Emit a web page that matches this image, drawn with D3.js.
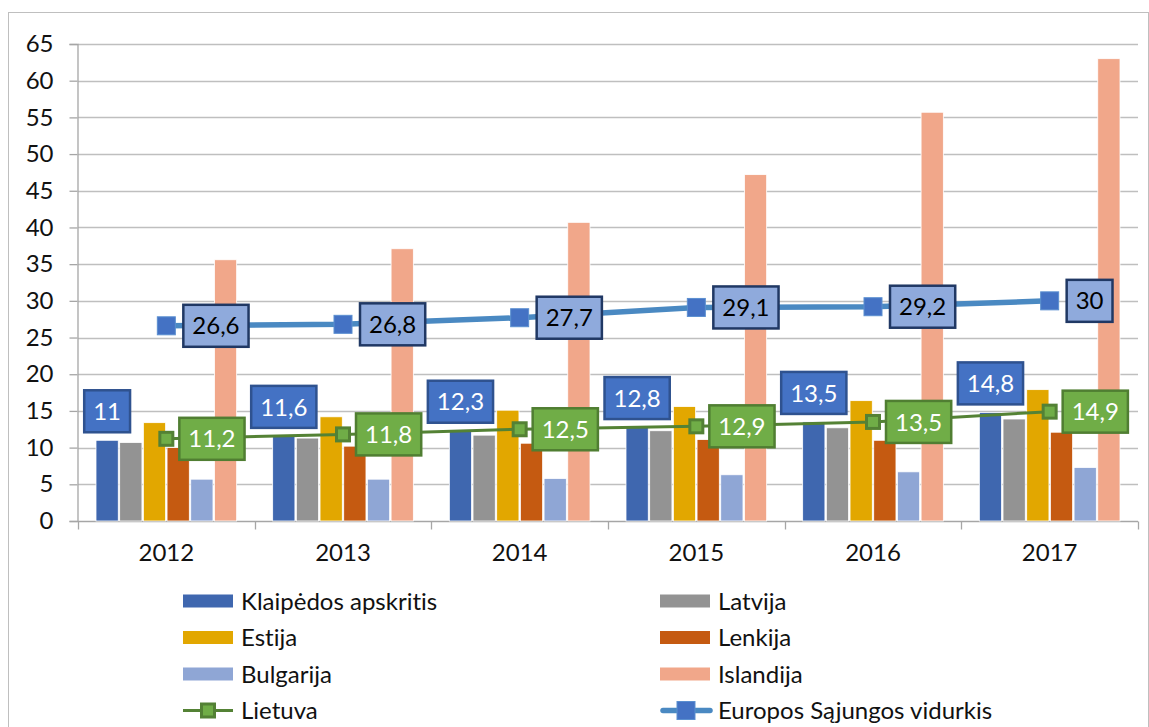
<!DOCTYPE html>
<html>
<head>
<meta charset="utf-8">
<script src="https://cdn.jsdelivr.net/npm/d3@7"></script>
<style>
	body { margin: 0; background: white; }
	svg text { font-family: Lato, "Open Sans", sans-serif; font-variant-ligatures: none; }
</style>
</head>
<body>
<svg id="chart" width="1149" height="727"></svg>
<script>
var YEARS = ["2012", "2013", "2014", "2015", "2016", "2017"];

var BAR_SERIES = ["Klaipėdos apskritis", "Latvija", "Estija", "Lenkija", "Bulgarija", "Islandija"];
var KLAIPEDA = [11, 11.6, 12.3, 12.8, 13.5, 14.8];
var LATVIJA = [10.7, 11.3, 11.7, 12.3, 12.7, 13.9];
var ESTIJA = [13.4, 14.2, 15.1, 15.6, 16.4, 17.9];
var LENKIJA = [10.0, 10.2, 10.6, 11.1, 11.0, 12.1];
var BULGARIJA = [5.7, 5.7, 5.8, 6.3, 6.7, 7.3];
var ISLANDIJA = [35.6, 37.1, 40.7, 47.2, 55.7, 63.0];

var LIETUVA = [11.2, 11.8, 12.5, 12.9, 13.5, 14.9];
var ES_VIDURKIS = [26.6, 26.8, 27.7, 29.1, 29.2, 30];

var Y_TICKS = [0, 5, 10, 15, 20, 25, 30, 35, 40, 45, 50, 55, 60, 65];

var barValues = [KLAIPEDA, LATVIJA, ESTIJA, LENKIJA, BULGARIJA, ISLANDIJA];
var barColors = ["#3F67AF", "#939393", "#E2A700", "#C55A11", "#8FA6D5", "#F1A78A"];

function fmt(v) {
	return String(v).replace(".", ",");
}

var svg = d3.select("#chart");
var FONT = 24;

// frame
svg.append("rect")
	.attr("x", 8.5)
	.attr("y", 12.5)
	.attr("width", 1140)
	.attr("height", 720)
	.attr("fill", "white")
	.attr("stroke", "#BFBFBF")
	.attr("stroke-width", 1);

var x0 = d3.scaleBand().domain(YEARS).range([78, 1138]);
var x1 = d3.scaleBand().domain(BAR_SERIES)
	.range([18, x0.bandwidth() - 18])
	.paddingInner(0.06);
var y = d3.scaleLinear().domain([0, 65]).range([521, 44]);

// gridlines
svg.append("g").selectAll("line")
	.data(Y_TICKS.filter(function(t) { return t > 0; }))
	.join("line")
	.attr("x1", 78)
	.attr("x2", 1138)
	.attr("y1", function(d) { return Math.round(y(d)) + 0.5; })
	.attr("y2", function(d) { return Math.round(y(d)) + 0.5; })
	.attr("stroke", "#BFBFBF")
	.attr("stroke-width", 1.3);

// y axis
var yAxis = svg.append("g")
	.attr("transform", "translate(77.5,0)")
	.call(d3.axisLeft(y).tickValues(Y_TICKS).tickSize(8).tickPadding(16).tickFormat(d3.format("d")));
yAxis.select(".domain").attr("stroke", "#A6A6A6").attr("stroke-width", 1.3);
yAxis.selectAll(".tick line").attr("stroke", "#A6A6A6").attr("stroke-width", 1.3);
yAxis.selectAll("text")
	.attr("font-size", FONT)
	.attr("font-family", "Lato, sans-serif")
	.attr("fill", "#111");

// x axis
var xAxis = svg.append("g")
	.attr("transform", "translate(0,521.5)")
	.call(d3.axisBottom(x0).tickSize(0).tickPadding(22));
xAxis.select(".domain").attr("d", "M78,0H1138").attr("stroke", "#A6A6A6").attr("stroke-width", 1.3);
xAxis.selectAll("text")
	.attr("font-size", FONT)
	.attr("font-family", "Lato, sans-serif")
	.attr("fill", "#111");
var bounds = YEARS.map(function(d) { return x0(d); }).concat([x0.range()[1]]);
xAxis.selectAll(".bound")
	.data(bounds)
	.join("line")
	.attr("class", "bound")
	.attr("x1", function(d) { return Math.round(d) + 0.5; })
	.attr("x2", function(d) { return Math.round(d) + 0.5; })
	.attr("y1", 0)
	.attr("y2", 8)
	.attr("stroke", "#A6A6A6")
	.attr("stroke-width", 1.3);

// bars
var groups = svg.append("g").selectAll("g")
	.data(YEARS)
	.join("g")
	.attr("transform", function(d) { return "translate(" + x0(d) + ",0)"; });

groups.selectAll("rect")
	.data(function(d, i) {
		return BAR_SERIES.map(function(s, k) { return {series: s, value: barValues[k][i], color: barColors[k]}; });
	})
	.join("rect")
	.attr("x", function(d) { return x1(d.series); })
	.attr("y", function(d) { return y(d.value); })
	.attr("width", x1.bandwidth())
	.attr("height", function(d) { return y(0) - y(d.value); })
	.attr("fill", function(d) { return d.color; })
	.attr("stroke", "white")
	.attr("stroke-width", 0.8);

function center(d) { return x0(d) + x0.bandwidth() / 2; }

// lines
var line = d3.line()
	.x(function(d) { return center(d.year); })
	.y(function(d) { return y(d.value); });

var esPts = YEARS.map(function(yr, i) { return {year: yr, value: ES_VIDURKIS[i]}; });
var ltPts = YEARS.map(function(yr, i) { return {year: yr, value: LIETUVA[i]}; });

svg.append("path")
	.datum(esPts)
	.attr("d", line)
	.attr("fill", "none")
	.attr("stroke", "#4A89C2")
	.attr("stroke-width", 5.5)
	.attr("stroke-linecap", "round");

svg.append("path")
	.datum(ltPts)
	.attr("d", line)
	.attr("fill", "none")
	.attr("stroke", "#548235")
	.attr("stroke-width", 3);

svg.append("g").selectAll("rect")
	.data(esPts)
	.join("rect")
	.attr("x", function(d) { return center(d.year) - 9; })
	.attr("y", function(d) { return y(d.value) - 9; })
	.attr("width", 18)
	.attr("height", 18)
	.attr("fill", "#4472C4")
	.attr("stroke", "#5B8FD0")
	.attr("stroke-width", 1);

svg.append("g").selectAll("rect")
	.data(ltPts)
	.join("rect")
	.attr("x", function(d) { return center(d.year) - 6.5; })
	.attr("y", function(d) { return y(d.value) - 6.5; })
	.attr("width", 13)
	.attr("height", 13)
	.attr("fill", "#70AD47")
	.attr("stroke", "#538135")
	.attr("stroke-width", 3);

// data labels
function textWidth(txt) {
	var t = svg.append("text").attr("font-size", FONT).text(txt);
	var w = t.node().getComputedTextLength();
	t.remove();
	return w + 18;
}

function label(cx, cy, txt, fill, stroke, color) {
	var g = svg.append("g");
	var w = textWidth(txt);
	g.append("rect")
		.attr("x", cx - w / 2)
		.attr("y", cy - 21)
		.attr("width", w)
		.attr("height", 42)
		.attr("fill", fill)
		.attr("stroke", stroke)
		.attr("stroke-width", 2.5);
	g.append("text")
		.attr("x", cx)
		.attr("y", cy)
		.attr("dy", "0.36em")
		.attr("text-anchor", "middle")
		.attr("font-size", FONT)
		.attr("fill", color)
		.text(txt);
}

YEARS.forEach(function(yr, i) {
	// Klaipedos - outside end of bar
	label(x0(yr) + x1(BAR_SERIES[0]) + x1.bandwidth() / 2, y(KLAIPEDA[i]) - 29, fmt(KLAIPEDA[i]), "#4472C4", "#2F528F", "white");
});

function rightLabel(pt, fill, stroke, color, gap) {
	var txt = fmt(pt.value);
	var w = textWidth(txt);
	label(center(pt.year) + gap + w / 2, y(pt.value), txt, fill, stroke, color);
}

esPts.forEach(function(p) { rightLabel(p, "#8FAADC", "#203864", "black", 17); });
ltPts.forEach(function(p) { rightLabel(p, "#70AD47", "#507E32", "white", 13); });

// legend
var LEGEND = [
	{name: "Klaipėdos apskritis", type: "bar", color: barColors[0]},
	{name: "Latvija", type: "bar", color: barColors[1]},
	{name: "Estija", type: "bar", color: barColors[2]},
	{name: "Lenkija", type: "bar", color: barColors[3]},
	{name: "Bulgarija", type: "bar", color: barColors[4]},
	{name: "Islandija", type: "bar", color: barColors[5]},
	{name: "Lietuva", type: "lt"},
	{name: "Europos Sąjungos vidurkis", type: "es"}
];

var leg = svg.append("g").selectAll("g")
	.data(LEGEND)
	.join("g")
	.attr("transform", function(d, i) {
		var col = i % 2, row = Math.floor(i / 2);
		return "translate(" + (col ? 660 : 183) + "," + (601 + row * 36.5) + ")";
	});

leg.each(function(d) {
	var g = d3.select(this);
	if (d.type === "bar") {
		g.append("rect")
			.attr("x", 0)
			.attr("y", -6.5)
			.attr("width", 50)
			.attr("height", 13)
			.attr("fill", d.color);
	} else if (d.type === "lt") {
		g.append("line")
			.attr("x1", 0).attr("x2", 50)
			.attr("y1", 0).attr("y2", 0)
			.attr("stroke", "#548235")
			.attr("stroke-width", 3);
		g.append("rect")
			.attr("x", 18.5).attr("y", -6.5)
			.attr("width", 13).attr("height", 13)
			.attr("fill", "#70AD47")
			.attr("stroke", "#538135")
			.attr("stroke-width", 3);
	} else {
		g.append("line")
			.attr("x1", 3).attr("x2", 50)
			.attr("y1", 0).attr("y2", 0)
			.attr("stroke", "#4A89C2")
			.attr("stroke-width", 5.5)
			.attr("stroke-linecap", "round");
		g.append("rect")
			.attr("x", 17).attr("y", -9)
			.attr("width", 18).attr("height", 18)
			.attr("fill", "#4472C4")
			.attr("stroke", "#5B8FD0")
			.attr("stroke-width", 1);
	}
	g.append("text")
		.attr("x", 58)
		.attr("y", 0)
		.attr("dy", "0.36em")
		.attr("font-size", FONT)
		.attr("fill", "#111")
		.text(d.name);
});
</script>
</body>
</html>
